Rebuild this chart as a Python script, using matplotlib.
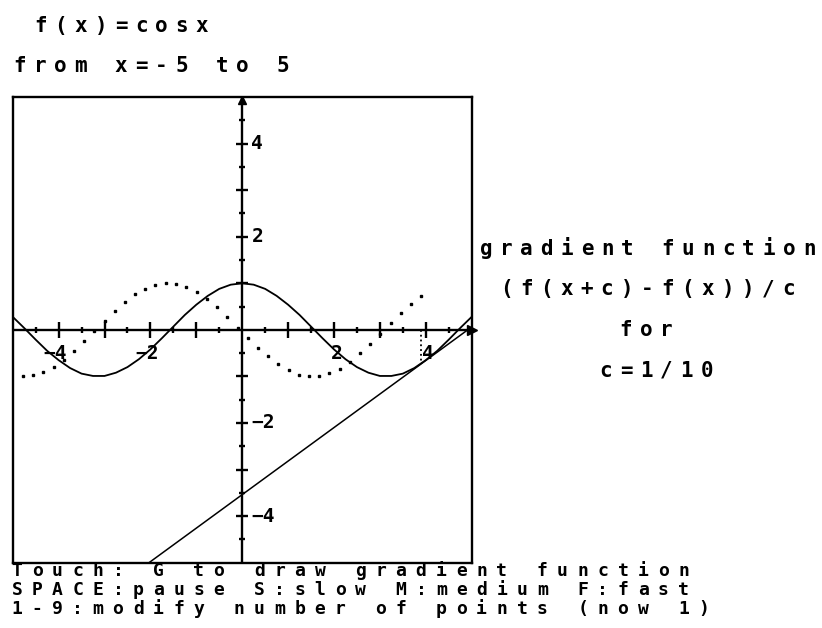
import matplotlib
matplotlib.use('Agg')
import matplotlib.pyplot as plt

# f(x) = cos x, sampled from x=-5 to 5
cos_x = [-5.0, -4.75, -4.5, -4.25, -4.0, -3.75, -3.5, -3.25, -3.0, -2.75,
         -2.5, -2.25, -2.0, -1.75, -1.5, -1.25, -1.0, -0.75, -0.5, -0.25,
         0.0, 0.25, 0.5, 0.75, 1.0, 1.25, 1.5, 1.75, 2.0, 2.25,
         2.5, 2.75, 3.0, 3.25, 3.5, 3.75, 4.0, 4.25, 4.5, 4.75, 5.0]
cos_y = [0.28, 0.04, -0.21, -0.45, -0.65, -0.82, -0.94, -0.99, -0.99, -0.92,
         -0.80, -0.63, -0.42, -0.18, 0.07, 0.32, 0.54, 0.73, 0.88, 0.97,
         1.00, 0.97, 0.88, 0.73, 0.54, 0.32, 0.07, -0.18, -0.42, -0.63,
         -0.80, -0.92, -0.99, -0.99, -0.94, -0.82, -0.65, -0.45, -0.21, 0.04, 0.28]

# gradient function points plotted so far
grad_x = [-4.78, -4.56, -4.33, -4.11, -3.89, -3.67, -3.44, -3.22, -3.00, -2.78,
          -2.55, -2.33, -2.11, -1.89, -1.66, -1.44, -1.22, -0.99, -0.77, -0.55,
          -0.33, -0.10, 0.12, 0.34, 0.56, 0.79, 1.01, 1.23, 1.46, 1.68,
          1.90, 2.12, 2.35, 2.57, 2.79, 3.01, 3.24, 3.46, 3.68, 3.90]
grad_y = [-1.00, -0.98, -0.91, -0.79, -0.64, -0.46, -0.25, -0.03, 0.19, 0.40,
          0.60, 0.76, 0.88, 0.96, 1.00, 0.98, 0.92, 0.81, 0.66, 0.48,
          0.28, 0.05, -0.17, -0.38, -0.57, -0.74, -0.87, -0.96, -1.00, -0.99,
          -0.93, -0.83, -0.68, -0.50, -0.30, -0.08, 0.15, 0.36, 0.56, 0.72]

# current point and its gradient line
point_x = 3.90
point_y = -0.73
point_slope = 0.72

major_ticks = [-4, -3, -2, -1, 1, 2, 3, 4]
minor_ticks = [-4.5, -3.5, -2.5, -1.5, -0.5, 0.5, 1.5, 2.5, 3.5, 4.5]
x_labels = [-4, -2, 2, 4]
y_labels = [4, 2, -2, -4]

W, H = 822, 628
fig = plt.figure(figsize=(W / 100, H / 100), dpi=100)
fig.patch.set_facecolor('white')

ax = fig.add_axes([12.7 / W, 1 - 562.7 / H, 459 / W, 465.7 / H])
ax.set_xlim(-5, 5)
ax.set_ylim(-5, 5)
ax.set_xticks([])
ax.set_yticks([])
for sp in ax.spines.values():
    sp.set_linewidth(1.7)
    sp.set_color('black')

# axes through the origin
ax.axhline(0, color='black', lw=1.7)
ax.axvline(0, color='black', lw=1.7)
ax.plot(major_ticks, [0] * len(major_ticks), ls='none', marker='|', ms=12, mew=1.7, color='black')
ax.plot(minor_ticks, [0] * len(minor_ticks), ls='none', marker='|', ms=5, mew=1.7, color='black')
ax.plot([0] * len(major_ticks), major_ticks, ls='none', marker='_', ms=9, mew=1.7, color='black')
ax.plot([0] * len(minor_ticks), minor_ticks, ls='none', marker='_', ms=5, mew=1.7, color='black')
ax.plot([5], [0], marker='>', ms=7, color='black', clip_on=False)
ax.plot([0], [4.93], marker='^', ms=6, color='black', clip_on=False)

label_font = dict(family='DejaVu Sans Mono', weight='bold', fontsize=14)
for v in x_labels:
    ax.text(v + 0.18, -0.5, str(v).replace('-', '\u2212'), ha='right', va='center', **label_font)
for v in y_labels:
    ax.text(0.2, v, str(v).replace('-', '\u2212'), ha='left', va='center', **label_font)

# the function, the gradient points and the line at the current point
ax.plot(cos_x, cos_y, color='black', lw=1.3)
ax.plot(grad_x, grad_y, ls='none', marker='s', ms=1.9, color='black')
ax.axline((point_x, point_y), slope=point_slope, color='black', lw=1.1)
ax.plot([point_x, point_x], [0, point_y], color='black', lw=1.3, ls=':')


def retro_text(x0, base, s, size=15, pitch=20.2):
    # one character per cell, like the old screen font
    for i, ch in enumerate(s):
        if ch == ' ':
            continue
        fig.text((x0 + i * pitch) / W, 1 - base / H, ch, ha='center', va='baseline',
                 family='DejaVu Sans Mono', weight='bold', fontsize=size)


retro_text(20, 32, ' f(x)=cosx')
retro_text(20, 72, 'from x=-5 to 5')

retro_text(486, 255, 'gradient function')
retro_text(506, 295, '(f(x+c)-f(x))/c')
retro_text(626, 336, 'for')
retro_text(606, 377, 'c=1/10')

retro_text(17, 576, 'Touch: G to draw gradient function', size=13)
retro_text(17, 595, 'SPACE:pause S:slow M:medium F:fast', size=13)
retro_text(17, 614, '1-9:modify number of points (now 1)', size=13)

fig.savefig('out.png', dpi=100)
